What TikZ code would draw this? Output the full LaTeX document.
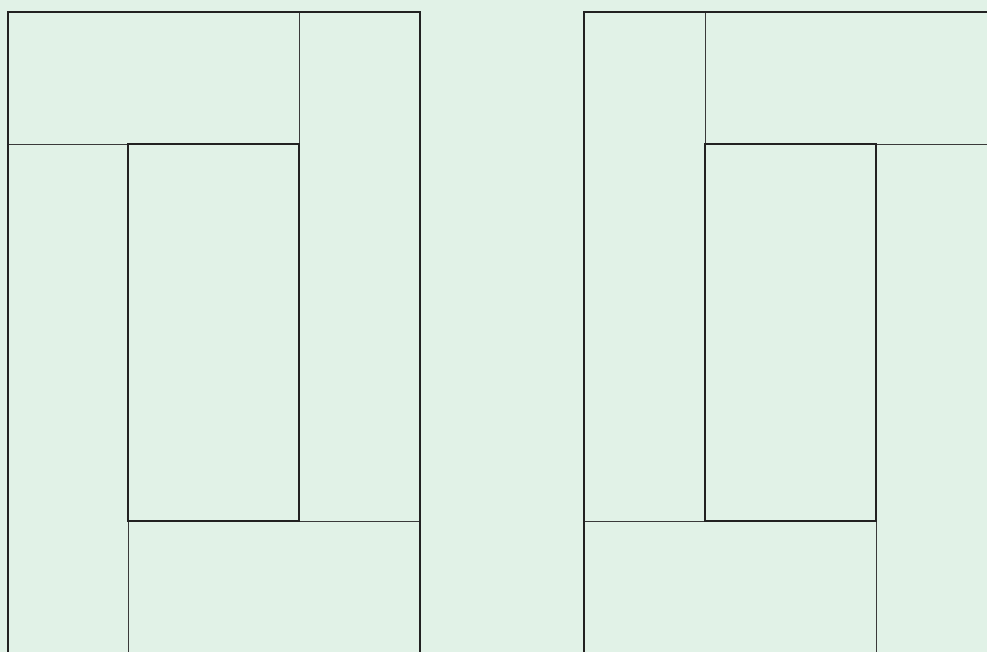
\documentclass[tikz,border=0pt]{standalone}
\usepackage{xcolor}
\usepackage{tikz}
\definecolor{panelgreen}{HTML}{E1F2E7}
\definecolor{edgegray}{HTML}{222222}
\definecolor{seamgray}{HTML}{3A3A3A}

\begin{document}
\begin{tikzpicture}[
    x=0.02cm, y=-0.02cm,
    outer/.style={draw=edgegray, line width=1.5pt},
    seam/.style={draw=seamgray, line width=0.55pt}
]
    % Background and frame
    \fill[panelgreen] (0,0) rectangle (987,652);
    \useasboundingbox (0,0) rectangle (987,652);
    \clip (0,0) rectangle (987,652);

    % Left block
    \coordinate (l_tl) at (8,12);
    \coordinate (l_tr) at (420,12);
    \draw[seam] (299,12) -- (299,144);
    \draw[seam] (8,144) -- (128,144);
    \draw[seam] (299,521) -- (420,521);
    \draw[seam] (128,521) -- (128,660);
    \draw[outer] (8,660) -- (l_tl) -- (l_tr) -- (420,660);
    \draw[outer] (128,144) rectangle (299,521);

    % Right block
    \coordinate (r_tl) at (584,12);
    \draw[seam] (705,12) -- (705,144);
    \draw[seam] (876,144) -- (995,144);
    \draw[seam] (584,521) -- (705,521);
    \draw[seam] (876,521) -- (876,660);
    \draw[outer] (584,660) -- (r_tl) -- (995,12);
    \draw[outer] (705,144) rectangle (876,521);

\end{tikzpicture}
\end{document}
